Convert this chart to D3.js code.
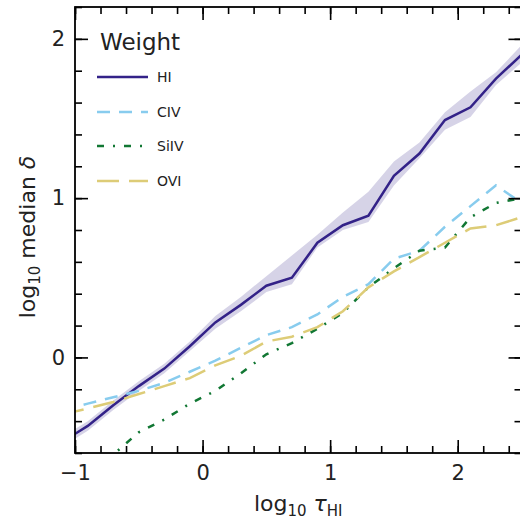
<!DOCTYPE html>
<html>
  <head>
    <title>Median delta vs tau HI</title>
    <style>
      body {
        margin: 0;
        padding: 0;
        overflow: hidden;
        background: #fff;
      }
      svg {
        display: block;
        font-family: 'DejaVu Sans', sans-serif;
      }
    </style>
    <script src="https://unpkg.com/d3@7.1.1/dist/d3.min.js"></script>
  </head>
  <body>
    <svg width="520" height="522"></svg>
    <script>
      // Datos
      const logTau = [-1.1, -0.9, -0.7, -0.5, -0.3, -0.1, 0.1, 0.3, 0.5, 0.7, 0.9, 1.1, 1.3, 1.5, 1.7, 1.9, 2.1, 2.3, 2.5];
      const hiMedian = [-0.53, -0.43, -0.30, -0.18, -0.07, 0.07, 0.22, 0.33, 0.45, 0.50, 0.72, 0.83, 0.89, 1.14, 1.28, 1.49, 1.57, 1.75, 1.90];
      const hiLow = [-0.56, -0.46, -0.33, -0.21, -0.10, 0.04, 0.18, 0.29, 0.41, 0.46, 0.69, 0.80, 0.85, 1.08, 1.25, 1.43, 1.51, 1.71, 1.85];
      const hiHigh = [-0.50, -0.40, -0.27, -0.15, -0.04, 0.10, 0.26, 0.38, 0.51, 0.64, 0.77, 0.91, 1.04, 1.23, 1.35, 1.54, 1.67, 1.79, 1.96];
      const civ = [-0.33, -0.29, -0.25, -0.21, -0.16, -0.09, -0.02, 0.06, 0.14, 0.19, 0.27, 0.38, 0.46, 0.62, 0.67, 0.82, 0.95, 1.08, 0.97];
      const siiv = [-0.85, -0.72, -0.61, -0.47, -0.39, -0.29, -0.21, -0.10, 0.02, 0.09, 0.18, 0.28, 0.44, 0.56, 0.67, 0.69, 0.88, 0.97, 1.00];
      const ovi = [-0.36, -0.32, -0.28, -0.23, -0.18, -0.13, -0.05, 0.01, 0.10, 0.13, 0.19, 0.29, 0.44, 0.54, 0.63, 0.72, 0.81, 0.83, 0.88];

      const seriesNames = ['HI', 'CIV', 'SiIV', 'OVI'];
      const seriesColors = ['#332288', '#88CCEE', '#117733', '#DDCC77'];
      const seriesDash = [null, '13,9', '7,9,2,9', '22,10'];
      const seriesValues = [hiMedian, civ, siiv, ovi];

      const xTicks = [-1, 0, 1, 2];
      const yTicks = [0, 1, 2];

      const svg = d3.select('svg');
      const mLeft = 75, mRight = 521.5, mTop = 7, mBottom = 453;

      const x = d3.scaleLinear().domain([-1, 2.5]).range([mLeft, mRight]);
      const y = d3.scaleLinear().domain([-0.6, 2.2]).range([mBottom, mTop]);

      svg.append('clipPath').attr('id', 'clip')
        .append('rect')
        .attr('x', mLeft).attr('y', mTop)
        .attr('width', mRight - mLeft).attr('height', mBottom - mTop);

      const plot = svg.append('g').attr('clip-path', 'url(#clip)');

      // Banda de HI
      const area = d3.area()
        .x((d, i) => x(logTau[i]))
        .y0((d, i) => y(hiLow[i]))
        .y1((d, i) => y(hiHigh[i]));
      plot.append('path')
        .datum(hiLow)
        .attr('d', area)
        .attr('fill', '#332288')
        .attr('fill-opacity', 0.2);

      const line = d3.line().x((d, i) => x(logTau[i])).y((d) => y(d));

      seriesValues.forEach((vals, k) => {
        plot.append('path')
          .datum(vals)
          .attr('d', line)
          .attr('fill', 'none')
          .attr('stroke', seriesColors[k])
          .attr('stroke-width', 2.5)
          .attr('stroke-dasharray', seriesDash[k]);
      });

      // Ejes con ticks hacia dentro en los cuatro lados
      const minorX = d3.range(-1, 2.51, 0.2);
      const minorY = d3.range(-0.6, 2.21, 0.2);

      const addAxis = (axis, tr) => {
        const g = svg.append('g').attr('transform', tr).call(axis)
          .attr('font-family', null).attr('font-size', null);
        g.select('.domain').remove();
        g.selectAll('line').attr('stroke', '#000').attr('stroke-width', 1.6);
        g.selectAll('text').attr('font-size', 21).attr('fill', '#222');
        return g;
      };

      addAxis(d3.axisBottom(x).tickValues(minorX).tickSize(-7).tickFormat(''), `translate(0,${mBottom})`);
      addAxis(d3.axisTop(x).tickValues(minorX).tickSize(-7).tickFormat(''), `translate(0,${mTop})`);
      addAxis(d3.axisLeft(y).tickValues(minorY).tickSize(-7).tickFormat(''), `translate(${mLeft},0)`);
      addAxis(d3.axisRight(y).tickValues(minorY).tickSize(-7).tickFormat(''), `translate(${mRight},0)`);

      const fmt = (d) => (d < 0 ? '\u2212' + Math.abs(d) : String(d));
      addAxis(d3.axisBottom(x).tickValues(xTicks).tickSize(-13).tickPadding(8).tickFormat(fmt), `translate(0,${mBottom})`)
        .selectAll('text').attr('dy', '0.9em');
      addAxis(d3.axisTop(x).tickValues(xTicks).tickSize(-13).tickFormat(''), `translate(0,${mTop})`);
      addAxis(d3.axisLeft(y).tickValues(yTicks).tickSize(-13).tickPadding(10).tickFormat(fmt), `translate(${mLeft},0)`);
      addAxis(d3.axisRight(y).tickValues(yTicks).tickSize(-13).tickFormat(''), `translate(${mRight},0)`);

      svg.append('rect')
        .attr('x', mLeft).attr('y', mTop)
        .attr('width', mRight - mLeft).attr('height', mBottom - mTop)
        .attr('fill', 'none').attr('stroke', '#000').attr('stroke-width', 1.8);

      // Etiquetas de los ejes
      const xl = svg.append('text')
        .attr('x', (mLeft + mRight) / 2).attr('y', 511)
        .attr('text-anchor', 'middle').attr('font-size', 22).attr('fill', '#222');
      xl.append('tspan').text('log');
      xl.append('tspan').attr('font-size', 15).attr('dy', 5).text('10');
      xl.append('tspan').attr('dy', -5).text(' ');
      xl.append('tspan').attr('font-style', 'italic').text('\u03c4');
      xl.append('tspan').attr('font-size', 15).attr('dy', 5).text('HI');

      const yl = svg.append('text')
        .attr('transform', `translate(35,237) rotate(-90)`)
        .attr('text-anchor', 'middle').attr('font-size', 22).attr('fill', '#222');
      yl.append('tspan').text('log');
      yl.append('tspan').attr('font-size', 15).attr('dy', 5).text('10');
      yl.append('tspan').attr('dy', -5).text(' median ');
      yl.append('tspan').attr('font-style', 'italic').text('\u03b4');

      // Leyenda
      const legend = svg.append('g');
      legend.append('text')
        .attr('x', 100).attr('y', 50)
        .attr('font-size', 23).attr('fill', '#222')
        .text('Weight');
      const rowY = [77, 112, 146, 181];
      seriesNames.forEach((name, k) => {
        legend.append('line')
          .attr('x1', 97).attr('x2', 148)
          .attr('y1', rowY[k]).attr('y2', rowY[k])
          .attr('stroke', seriesColors[k])
          .attr('stroke-width', 2.5)
          .attr('stroke-dasharray', seriesDash[k]);
        legend.append('text')
          .attr('x', 157).attr('y', rowY[k] + 5)
          .attr('font-size', 14).attr('fill', '#222')
          .text(name);
      });
    </script>
  </body>
</html>
